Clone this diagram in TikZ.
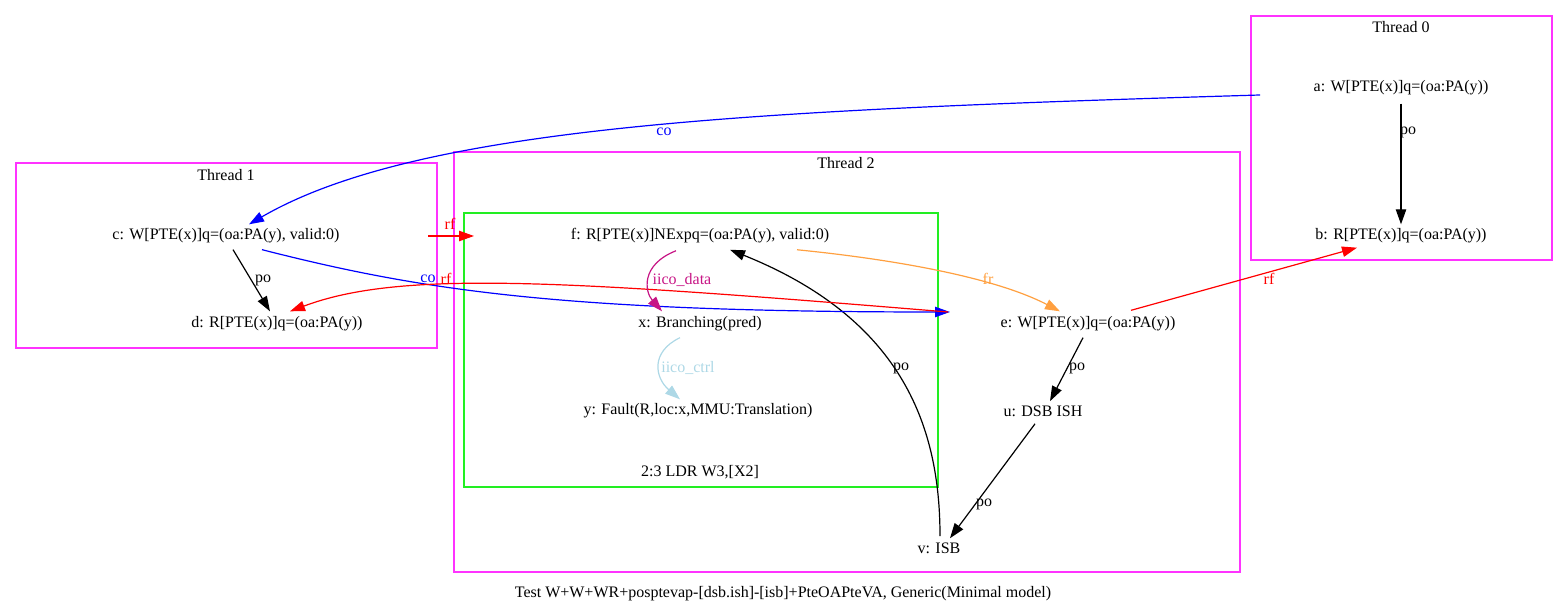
\documentclass[tikz,border=0pt]{standalone}
\usepackage{fontspec}
\setmainfont{Liberation Serif}
\usetikzlibrary{arrows.meta}
\definecolor{iicodata}{HTML}{C71585}
\definecolor{frorange}{HTML}{FFA040}
\definecolor{iicoctrl}{HTML}{ADD8E6}
\definecolor{thr}{HTML}{FF33FF}
\definecolor{instr}{HTML}{22EE22}
\begin{document}
\begin{tikzpicture}[x=0.5pt,y=-0.5pt,
  txt/.style={font=\fontsize{8}{9.5}\selectfont, inner sep=0pt},
  cluster/.style={draw=thr, line width=0.6pt},
  icluster/.style={draw=instr, line width=0.6pt},
  rel/.style={line width=0.6pt, -{Triangle[length=7.5pt,width=5.2pt]}},
]
\useasboundingbox (0,0) rectangle (1568,613);

% thread boxes
\draw[cluster] (1251,16) rectangle (1552,260);
\draw[cluster] (16,163) rectangle (437,348);
\draw[cluster] (454,152) rectangle (1240,572);
\draw[icluster] (464,213) rectangle (938,487);

\node[txt] (t0) at (1401,27) {Thread 0};
\node[txt] (t1) at (226,175) {Thread 1};
\node[txt] (t2) at (846,163) {Thread 2};
\node[txt] (ins) at (700,472) {2:3 LDR W3,[X2]};
\node[txt] (cap) at (783,594) {Test W+W+WR+posptevap-[dsb.ish]-[isb]+PteOAPteVA, Generic(Minimal model)};

% events
\node[txt] (a) at (1401,88) {a: W[PTE(x)]q=(oa:PA(y))};
\node[txt] (b) at (1401,236) {b: R[PTE(x)]q=(oa:PA(y))};
\node[txt] (c) at (226,236) {c: W[PTE(x)]q=(oa:PA(y), valid:0)};
\node[txt] (d) at (277,324) {d: R[PTE(x)]q=(oa:PA(y))};
\node[txt] (f) at (700,236) {f: R[PTE(x)]NExpq=(oa:PA(y), valid:0)};
\node[txt] (x) at (700,324) {x: Branching(pred)};
\node[txt] (y) at (698,411) {y: Fault(R,loc:x,MMU:Translation)};
\node[txt] (e) at (1088,324) {e: W[PTE(x)]q=(oa:PA(y))};
\node[txt] (u) at (1043,411) {u: DSB ISH};
\node[txt] (v) at (939,548) {v: ISB};

% free ends clipped at the cluster borders
\coordinate (aout) at (1260,95);
\coordinate (cout) at (428,236);
\coordinate (fin) at (474,236);
\coordinate (ein) at (950,312);
\coordinate (eout) at (948,312);

% program order
\draw[rel] ([shift={(0,8)}]a.south) -- ([shift={(0,-4)}]b.north);
\draw[rel] ([shift={(7,6)}]c.south) -- ([shift={(-7,-5)}]d.north);
\draw[rel] ([shift={(-5,6)}]e.south) -- ([shift={(7,-4)}]u.north);
\draw[rel] ([shift={(-8,7)}]u.south) -- ([shift={(11,-4)}]v.north);
\draw[rel] ([shift={(1,-6)}]v.north) .. controls (940,430) and (905,320) .. ([shift={(30,6)}]f.south);
\node[txt] (lpo0) at (1408,132) {po};
\node[txt] (lpo1) at (263,280) {po};
\node[txt] (lpo2) at (1077,368) {po};
\node[txt] (lpo3) at (984,504) {po};
\node[txt] (lpo4) at (901,368) {po};

% coherence
\draw[rel, blue] (aout) .. controls (760,110) and (420,125) .. ([shift={(23,-4)}]c.north);
\node[txt, text=blue] (lco0) at (664,132) {co};
\draw[rel, blue] ([shift={(36,6)}]c.south) .. controls (420,290) and (560,312) .. (ein);
\node[txt, text=blue] (lco1) at (428,279) {co};

% reads-from
\draw[rel, red] (cout) -- (fin);
\node[txt, text=red] (lrf0) at (450,224) {rf};
\draw[rel, red] (eout) .. controls (560,280) and (400,270) .. ([shift={(13,-5)}]d.north);
\node[txt, text=red] (lrf1) at (446,279) {rf};
\draw[rel, red] ([shift={(43,-6)}]e.north) -- ([shift={(-44,4)}]b.south);
\node[txt, text=red] (lrf2) at (1269,279) {rf};

% from-read
\draw[rel, frorange] ([shift={(97,6)}]f.south) .. controls (880,258) and (990,275) .. ([shift={(-28,-5)}]e.north);
\node[txt, text=frorange] (lfr) at (988,279) {fr};

% intra-instruction
\draw[rel, iicodata] ([shift={(-24,7)}]f.south) .. controls (640,265) and (645,292) .. ([shift={(-38,-5)}]x.north);
\node[txt, text=iicodata] (lid) at (682,280) {iico\_data};
\draw[rel, iicoctrl] ([shift={(-20,6)}]x.south) .. controls (650,352) and (655,378) .. ([shift={(-18,-4)}]y.north);
\node[txt, text=iicoctrl] (lic) at (688,368) {iico\_ctrl};
\end{tikzpicture}
\end{document}
